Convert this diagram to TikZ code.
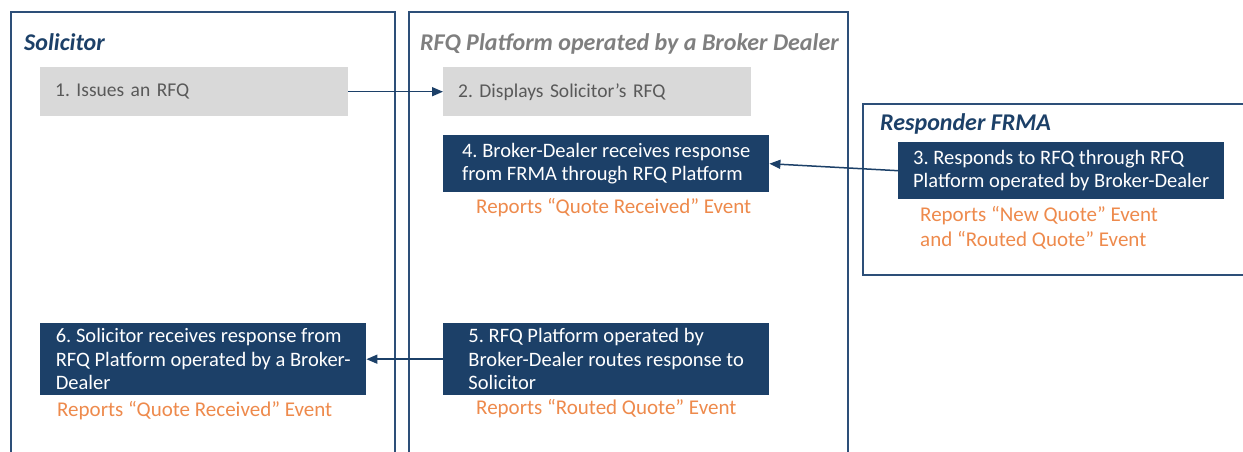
\documentclass[tikz,border=0pt]{standalone}
\usepackage{fontspec}
\setmainfont{Carlito}
\usetikzlibrary{arrows.meta}
\definecolor{navy}{HTML}{1C4068}
\definecolor{framec}{HTML}{2D4F78}
\definecolor{boxgray}{HTML}{D9D9D9}
\definecolor{txtgray}{HTML}{595959}
\definecolor{titlegray}{HTML}{7F7F7F}
\definecolor{orng}{HTML}{EE8A4C}
\frenchspacing
\begin{document}
\begin{tikzpicture}[x=1pt,y=-1pt,
  frame/.style={draw=framec,line width=2pt},
  title/.style={font=\fontsize{24}{28}\selectfont\bfseries\itshape,anchor=base west,inner sep=0pt},
  graybox/.style={fill=boxgray,draw=none,text=txtgray,font=\fontsize{19.5}{23.5}\selectfont,
    anchor=north west,text width=278pt,inner xsep=15pt,inner ysep=0pt,minimum height=49pt,align=left},
  navybox/.style={fill=navy,draw=none,text=white,font=\fontsize{20.5}{23.5}\selectfont,
    anchor=north west,minimum width=326pt,inner sep=0pt,align=left},
  report/.style={text=orng,font=\fontsize{21}{25}\selectfont,anchor=west,inner sep=0pt,align=left},
  conn/.style={draw=navy,line width=1.5pt,-{Triangle[length=11pt,width=9pt]}}]
\useasboundingbox (0,0) rectangle (1243,452);
\clip (0,0) rectangle (1243,452);
\fill[white] (0,0) rectangle (1243,452);
% frames
\draw[frame] (11,12) rectangle (395,470);
\draw[frame] (409,12) rectangle (848,470);
\draw[frame] (863,104) rectangle (1260,275);
% titles
\node[title,text=navy] (t1) at (24,51) {Solicitor};
\node[title,text=titlegray] (t2) at (420,51) {RFQ Platform operated by a Broker Dealer};
\node[title,text=navy] (t3) at (880,130) {Responder FRMA};
% boxes
\node[graybox] (b1) at (40,67) {1. Issues an RFQ};
\node[graybox] (b2) at (443,67) {2. Displays Solicitor’s RFQ};
\node[navybox,minimum height=57pt] (b4) at (443,135) {4. Broker-Dealer receives response\\from FRMA through RFQ Platform};
\node[navybox,minimum height=57pt] (b3) at (898,142) {3. Responds to RFQ through RFQ\\Platform operated by Broker-Dealer};
\node[navybox,minimum height=72pt] (b6) at (40,323) {6. Solicitor receives response from\\RFQ Platform operated by a Broker-\\Dealer};
\node[navybox,minimum height=72pt] (b5) at (443,323) {5. RFQ Platform operated by\\Broker-Dealer routes response to\\Solicitor};
% reports
\node[report] (r4) at (476,208) {Reports “Quote Received” Event};
\node[report,anchor=north west] (r3) at (920,206) {Reports “New Quote” Event\\and “Routed Quote” Event};
\node[report] (r6) at (57,411) {Reports “Quote Received” Event};
\node[report] (r5) at (476,409) {Reports “Routed Quote” Event};
% connectors
\draw[conn] (b1.east) -- (b2.west);
\draw[conn] (b3.west) -- (b4.east);
\draw[conn] (b5.west) -- (b6.east);
\end{tikzpicture}
\end{document}
